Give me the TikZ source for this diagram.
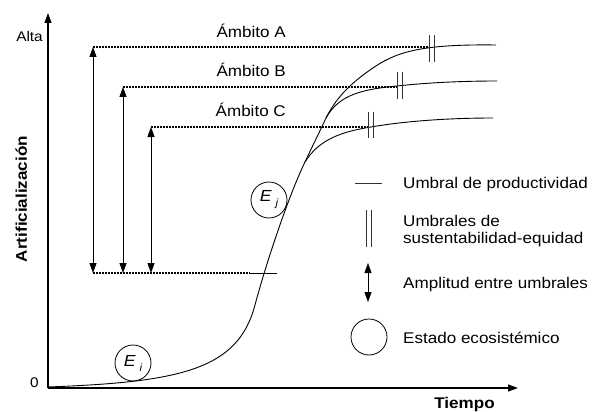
\documentclass[tikz,border=0pt]{standalone}
\usepackage{fontspec}
\setmainfont{Liberation Sans}[FakeStretch=1.1]
\usetikzlibrary{arrows.meta}
\newcommand\Elabel[1]{{\fontsize{16}{16}\selectfont\itshape E}\hspace{4pt}\raisebox{-5pt}{\fontsize{10.5}{10.5}\selectfont\itshape #1}}
\begin{document}
\begin{tikzpicture}[x=1pt,y=-1pt,
  txt/.style={inner sep=0pt, font=\fontsize{15.5}{17}\selectfont},
  smalltxt/.style={inner sep=0pt, font=\fontsize{14}{15}\selectfont},
  boldtxt/.style={inner sep=0pt, font=\fontsize{15.5}{17}\selectfont\bfseries},
  curve/.style={line width=0.9pt},
  axis/.style={line width=1.1pt},
  dashline/.style={line width=1.1pt, dash pattern=on 2pt off 1pt},
  bar/.style={line width=0.9pt, black!80},
  Hd/.tip={Triangle[width=7pt,length=10pt]},
  state/.style={circle, draw, line width=0.8pt, minimum size=36pt, inner sep=0pt},
]
\useasboundingbox (0,0) rectangle (595,412);

% axes
\coordinate (O) at (48,388);
\coordinate (Ytop) at (48,13);
\coordinate (Xend) at (518,388);
\draw[axis,-{Hd}] (O) -- (Ytop);
\draw[axis,-{Hd}] (O) -- (Xend);
\node[smalltxt, anchor=base east] (alta) at (43,42) {Alta};
\node[smalltxt, anchor=base east] (zero) at (39,387) {0};
\node[boldtxt, anchor=base] (tiempo) at (464.5,408.3) {Tiempo};
\node[boldtxt, rotate=90, anchor=base] (artif) at (27,199) {Artificialización};

% dashed levels
\coordinate (Ad0) at (93,47);  \coordinate (Ad1) at (430,47);
\coordinate (Bd0) at (123,87); \coordinate (Bd1) at (397,87);
\coordinate (Cd0) at (151,127); \coordinate (Cd1) at (370,127);
\coordinate (Ld0) at (93,273); \coordinate (Ld1) at (250,273); \coordinate (Ld2) at (277,273);
\draw[dashline] (Ad0) -- (Ad1);
\draw[dashline] (Bd0) -- (Bd1);
\draw[dashline] (Cd0) -- (Cd1);
\draw[dashline] (Ld0) -- (Ld1);
\draw[curve] (Ld1) -- (Ld2);

% amplitude arrows
\coordinate (Aa) at (93,273); \coordinate (Ba) at (123,273); \coordinate (Ca) at (151,273);
\draw[curve,{Hd}-{Hd}] (Ad0) -- (Aa);
\draw[curve,{Hd}-{Hd}] (Bd0) -- (Ba);
\draw[curve,{Hd}-{Hd}] (Cd0) -- (Ca);

\node[txt, anchor=base east] (lA) at (286,38) {Ámbito A};
\node[txt, anchor=base east] (lB) at (286,77) {Ámbito B};
\node[txt, anchor=base east] (lC) at (286,117) {Ámbito C};

% curves
\coordinate (S) at (48,387);
\coordinate (bC) at (305,162);
\coordinate (bAB) at (326,118);
\draw[curve] (S) .. controls (180,382) and (238,370) .. (255,305)
  .. controls (265,267) and (288,197) .. (bC)
  .. controls (312,147) and (320,131) .. (bAB)
  .. controls (336,98) and (350,84) .. (370,70)
  .. controls (395,52) and (420,44) .. (496,45);
\draw[curve] (bAB) .. controls (336,100) and (352,92) .. (380,88)
  .. controls (410,84) and (450,81) .. (497,81);
\draw[curve] (bC) .. controls (315,146) and (330,135) .. (360,129)
  .. controls (400,121) and (450,118) .. (493,118);

% sustainability bars
\foreach \n/\x/\ya/\yb in {a1/429/35/62, a2/434/35/62, b1/397/72/99, b2/402/72/99, c1/368.5/112/138, c2/373.5/112/138}{
  \coordinate (\n t) at (\x,\ya); \coordinate (\n b) at (\x,\yb);
  \draw[bar] (\n t) -- (\n b);
}

% states
\node[state] (Ei) at (133,363) {\Elabel{i}};
\node[state] (Ej) at (269,200) {\Elabel{j}};

% legend
\coordinate (g1a) at (355,183); \coordinate (g1b) at (382,183);
\draw[bar] (g1a) -- (g1b);
\node[txt, anchor=base west] (l1) at (403,188) {Umbral de productividad};
\coordinate (g2a) at (366,210); \coordinate (g2b) at (366,247);
\coordinate (g3a) at (371,210); \coordinate (g3b) at (371,247);
\draw[bar] (g2a) -- (g2b);
\draw[bar] (g3a) -- (g3b);
\node[txt, anchor=base west] (l2) at (403,226) {Umbrales de};
\node[txt, anchor=base west] (l3) at (403,243) {sustentabilidad-equidad};
\coordinate (g4a) at (368,263); \coordinate (g4b) at (368,302);
\draw[curve,{Hd}-{Hd}] (g4a) -- (g4b);
\node[txt, anchor=base west] (l4) at (403,288) {Amplitud entre umbrales};
\node[state] (Leg) at (369,337) {};
\node[txt, anchor=base west] (l5) at (403,343) {Estado ecosistémico};
\end{tikzpicture}
\end{document}
